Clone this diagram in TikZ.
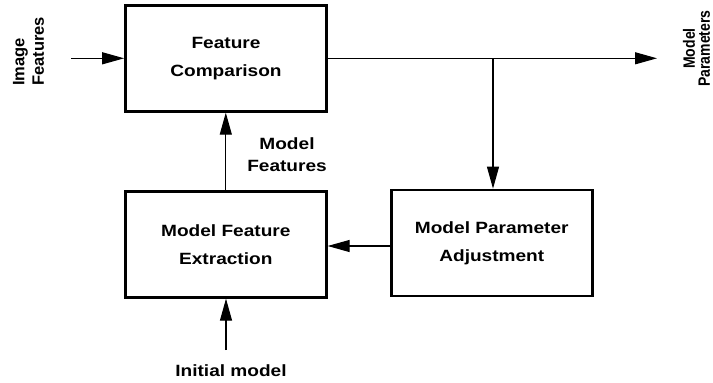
\documentclass[tikz,border=0pt]{standalone}
\usepackage{fontspec}
\setmainfont{Liberation Sans}
\newfontfamily\hfont{Liberation Sans Bold}[FakeStretch=1.17]
\newfontfamily\rfont{Liberation Sans Bold}
\newfontfamily\pfont{Liberation Sans Bold}[FakeStretch=0.855]
\usetikzlibrary{arrows.meta}
\begin{document}
\begin{tikzpicture}[x=1pt,y=-1pt,
  blockbox/.style={draw,line width=2.7pt,minimum width=201pt,minimum height=106pt,
    inner sep=0pt,align=center,font=\hfont\fontsize{16.3}{28}\selectfont},
  conn/.style={line width=1.1pt},
  arr/.style={conn,-{Triangle[length=22pt,width=12pt]}},
  lbl/.style={inner sep=0pt,align=center,font=\hfont\fontsize{16.3}{22}\selectfont}]
\useasboundingbox (0,0) rectangle (713,383);
\node[blockbox] (fc) at (226,58.3) {Feature\\Comparison};
\node[blockbox] (mfe) at (225.8,244.3) {Model Feature\\Extraction};
\node[blockbox] (mpa) at (491.8,243) {Model Parameter\\Adjustment};
\node[inner sep=0pt,rotate=90,align=left,font=\rfont\fontsize{16.5}{19.5}\selectfont] (imf) at (28.5,51.5) {Image\\Features};
\node[inner sep=0pt,rotate=90,align=center,font=\pfont\fontsize{16.4}{15}\selectfont] (mp) at (696.5,48.5) {Model\\Parameters};
\node[lbl] (mf) at (287,155) {Model\\Features};
\node[lbl] (im) at (231,371) {Initial model};
\coordinate (inA) at (71,58.3);
\coordinate (outA) at (657,58.3);
\coordinate (br) at (493,58.3);
\coordinate (initA) at (226,350);
\coordinate (mpw) at ([yshift=-3pt]mpa.west);
\draw[arr] (inA) -- (fc.west);
\draw[arr] (fc.east) -- (outA);
\draw[arr] (br) -- (br |- mpa.north);
\draw[arr] (mfe.north) -- (mfe.north |- fc.south);
\draw[arr] (mpw) -- (mpw -| mfe.east);
\draw[arr] (initA) -- (initA |- mfe.south);
\end{tikzpicture}
\end{document}
